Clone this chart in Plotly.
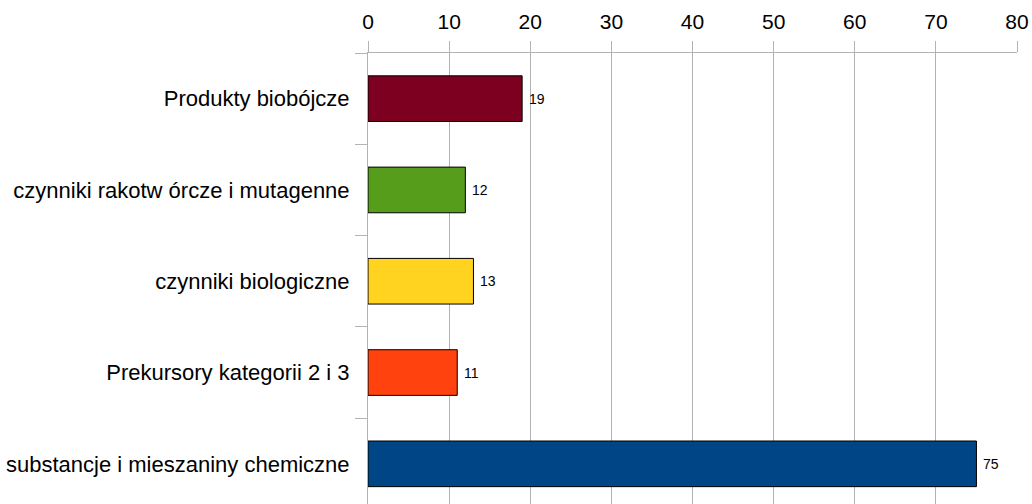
import plotly.graph_objects as go

categories = [
    "Produkty biobójcze",
    "czynniki rakotw órcze i mutagenne",
    "czynniki biologiczne",
    "Prekursory kategorii 2 i 3",
    "substancje i mieszaniny chemiczne",
]
values = [19, 12, 13, 11, 75]
colors = ["#7E0021", "#579D1C", "#FFD320", "#FF420E", "#004586"]
x_ticks = [0, 10, 20, 30, 40, 50, 60, 70, 80]

grid = "#b3b3b3"
font_family = "Liberation Sans, Arial, sans-serif"

fig = go.Figure()
fig.add_trace(go.Bar(
    x=values,
    y=categories,
    orientation="h",
    width=0.5,
    marker=dict(color=colors, line=dict(color="#000000", width=1)),
    showlegend=False,
    hoverinfo="x+y",
))

for v, c in zip(values, categories):
    fig.add_annotation(
        x=v, y=c, text=str(v), showarrow=False,
        xanchor="left", yanchor="middle", xshift=5,
        font=dict(size=14, color="#000000", family=font_family),
    )

fig.update_layout(
    width=1032,
    height=504,
    margin=dict(l=368, r=15, t=53, b=0),
    paper_bgcolor="white",
    plot_bgcolor="white",
    font=dict(family=font_family, color="#000000"),
    bargap=0.5,
)

fig.update_xaxes(
    side="top",
    range=[0, 80],
    tickvals=x_ticks,
    ticktext=[str(t) for t in x_ticks],
    showgrid=True,
    gridcolor=grid,
    gridwidth=1,
    zeroline=False,
    showline=True,
    linecolor=grid,
    linewidth=1,
    ticks="outside",
    ticklen=11,
    tickcolor=grid,
    ticklabelstandoff=4,
    tickfont=dict(size=21, color="#000000", family=font_family),
    fixedrange=True,
)

fig.update_yaxes(
    type="category",
    categoryorder="array",
    categoryarray=categories,
    range=[4.44, -0.5],
    tickson="boundaries",
    ticks="outside",
    ticklen=12,
    tickcolor=grid,
    ticklabelstandoff=13,
    showgrid=False,
    showline=True,
    linecolor=grid,
    linewidth=1,
    zeroline=False,
    tickfont=dict(size=22, color="#000000", family=font_family),
    fixedrange=True,
)

fig.write_html(
    "out.html",
    config={"displayModeBar": False},
    post_script="document.body.style.margin='0';document.body.style.overflow='hidden';",
)
